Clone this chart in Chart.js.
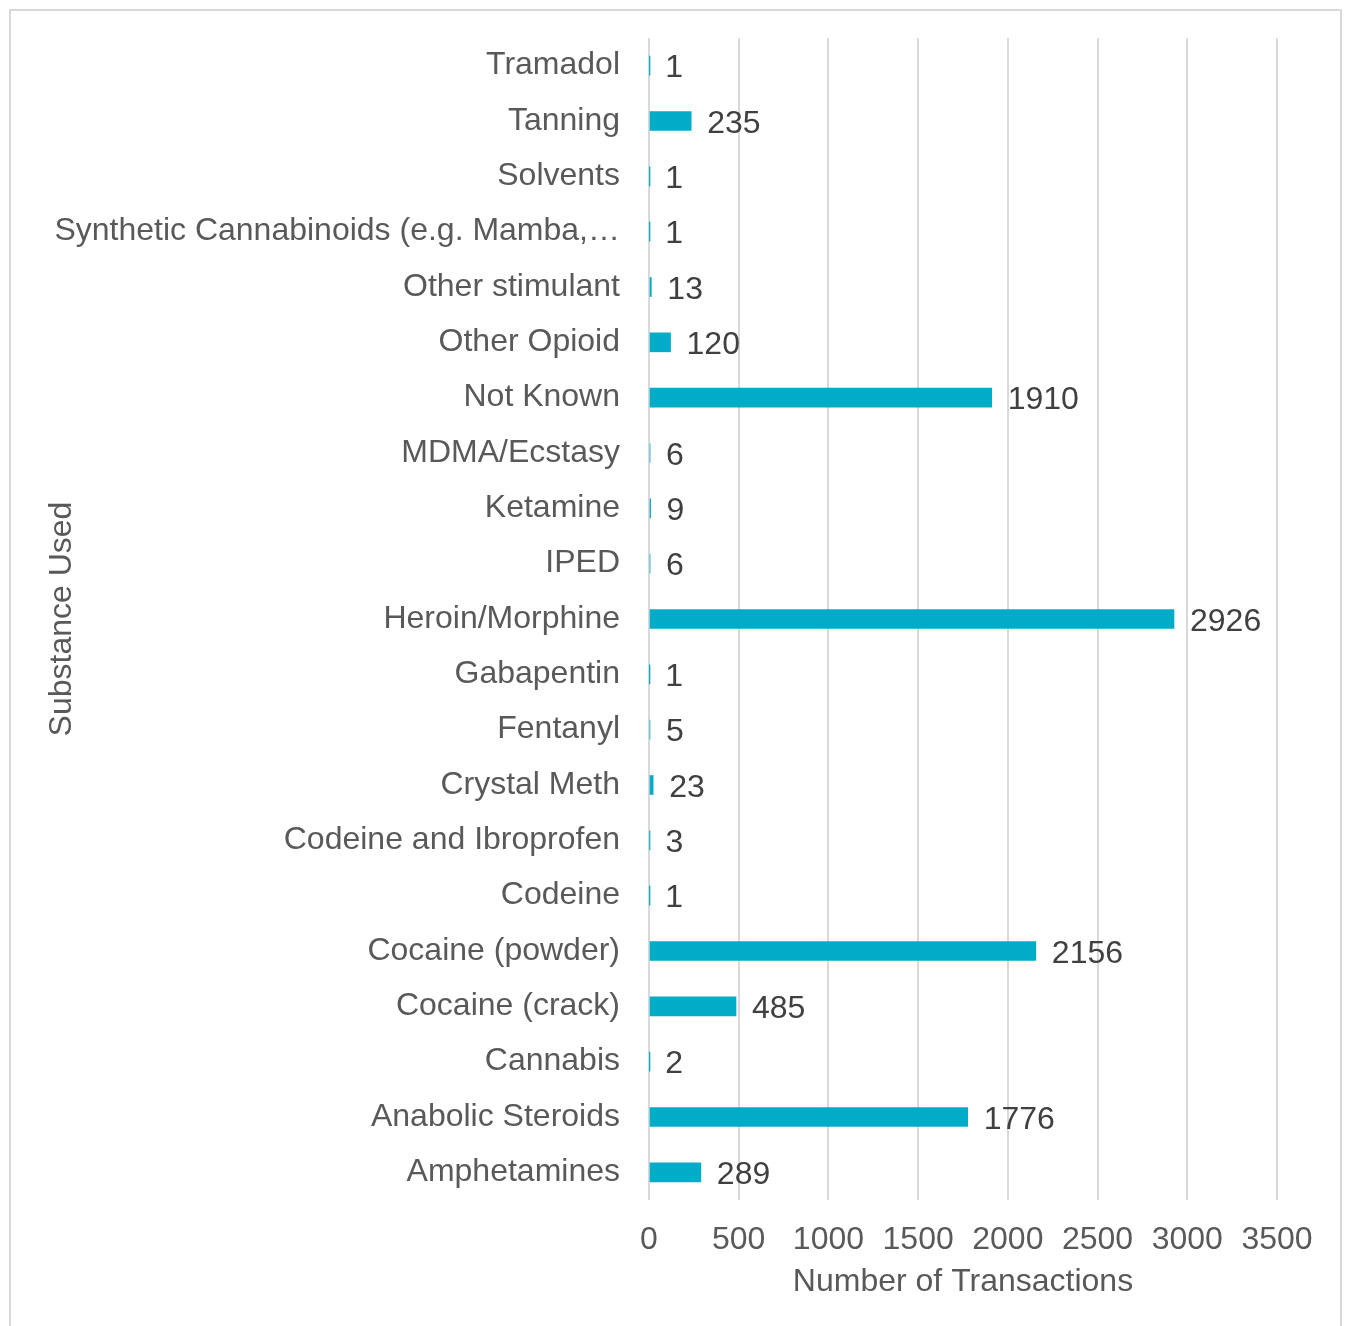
<!DOCTYPE html>
<html>
<head>
<meta charset="utf-8">
<script src="https://cdn.jsdelivr.net/npm/chart.js@4/dist/chart.umd.min.js"></script>
<style>
  html, body { margin: 0; padding: 0; background: #fff; }
  #wrap { position: relative; width: 1346px; height: 1326px; overflow: hidden; }
  #frame { position: absolute; left: 9px; top: 9px; width: 1333px; height: 1340px; border: 2px solid #d9d9d9; box-sizing: border-box; pointer-events: none; }
  canvas { position: absolute; left: 0; top: 0; }
</style>
</head>
<body>
<div id="wrap">
  <div id="frame"></div>
  <canvas id="c" width="1346" height="1326"></canvas>
</div>
<script>
const categories = [
  "Tramadol", "Tanning", "Solvents", "Synthetic Cannabinoids (e.g. Mamba,\u2026",
  "Other stimulant", "Other Opioid", "Not Known", "MDMA/Ecstasy", "Ketamine",
  "IPED", "Heroin/Morphine", "Gabapentin", "Fentanyl", "Crystal Meth",
  "Codeine and Ibroprofen", "Codeine", "Cocaine (powder)", "Cocaine (crack)",
  "Cannabis", "Anabolic Steroids", "Amphetamines"
];
const transactions = [1, 235, 1, 1, 13, 120, 1910, 6, 9, 6, 2926, 1, 5, 23, 3, 1, 2156, 485, 2, 1776, 289];
const xTicks = [0, 500, 1000, 1500, 2000, 2500, 3000, 3500];

const FONT = "'Liberation Sans', Arial, sans-serif";
const FS = 32;

const valueLabels = {
  id: 'valueLabels',
  afterDatasetsDraw(chart) {
    const ctx = chart.ctx;
    const meta = chart.getDatasetMeta(0);
    ctx.save();
    ctx.font = FS + "px " + FONT;
    ctx.fillStyle = '#404040';
    ctx.textAlign = 'left';
    ctx.textBaseline = 'middle';
    meta.data.forEach((el, i) => {
      ctx.fillText(String(transactions[i]), el.x + 16, el.y + 3);
    });
    ctx.restore();
  }
};

new Chart(document.getElementById('c'), {
  type: 'bar',
  data: {
    labels: categories,
    datasets: [{
      data: transactions,
      backgroundColor: '#00ACC8',
      borderWidth: 0,
      barThickness: 19
    }]
  },
  options: {
    indexAxis: 'y',
    responsive: false,
    animation: false,
    events: [],
    layout: { padding: { top: 38, right: 69, bottom: 0, left: 0 } },
    plugins: { legend: { display: false }, tooltip: { enabled: false } },
    scales: {
      x: {
        min: 0, max: 3500,
        afterBuildTicks(s) { s.ticks = xTicks.map(v => ({ value: v })); },
        afterFit(s) { s.height = 126; s.paddingLeft = 0; s.paddingRight = 0; },
        grid: { color: '#d9d9d9', lineWidth: 2, drawTicks: false },
        border: { display: false },
        ticks: { color: '#595959', font: { family: FONT, size: FS }, padding: 21, maxRotation: 0, autoSkip: false,
                 callback: (v) => String(v) },
        title: { display: true, text: 'Number of Transactions', color: '#595959', font: { family: FONT, size: FS }, padding: 25 }
      },
      y: {
        afterFit(s) { s.width = 649; s.paddingTop = 0; s.paddingBottom = 0; },
        grid: { display: false, drawTicks: false },
        border: { display: false },
        ticks: { color: '#595959', font: { family: FONT, size: FS }, padding: 29, autoSkip: false },
        title: { display: true, text: 'Substance Used', color: '#595959', font: { family: FONT, size: FS }, padding: 43 }
      }
    }
  },
  plugins: [valueLabels]
});
</script>
</body>
</html>
